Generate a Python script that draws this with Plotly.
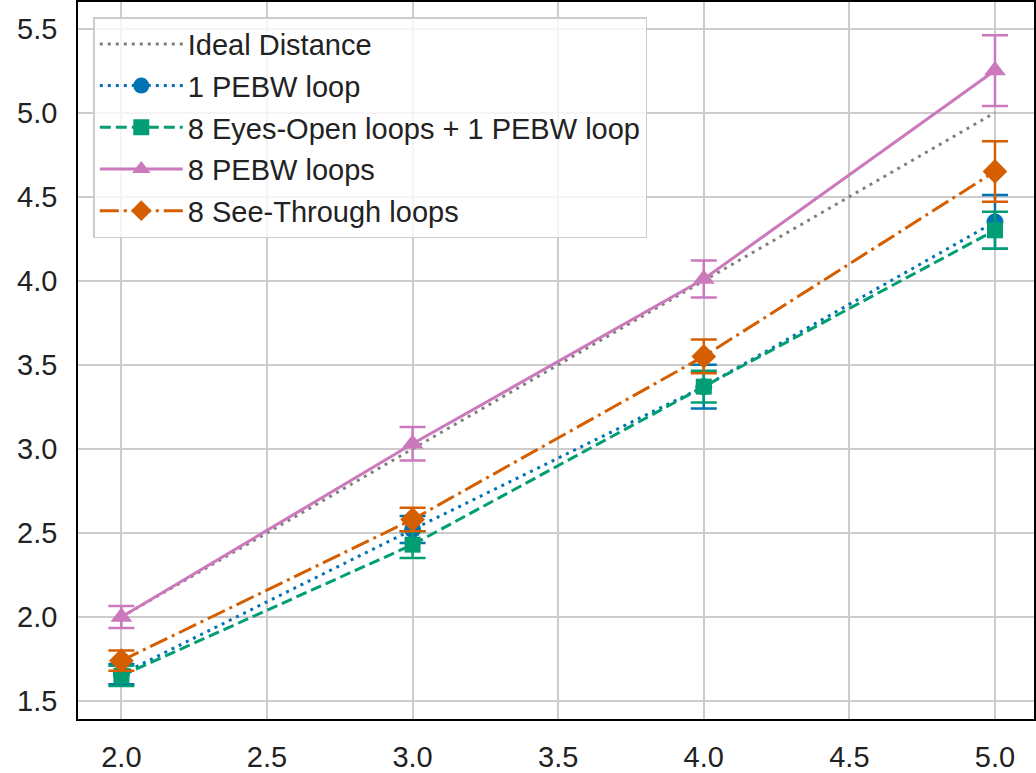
import plotly.graph_objects as go

distances = [2.0, 3.0, 4.0, 5.0]
ideal = [2.0, 3.0, 4.0, 5.0]

pebw1_mean = [1.66, 2.52, 3.37, 4.35]
pebw1_err = [0.06, 0.08, 0.13, 0.16]

eyes_mean = [1.65, 2.43, 3.37, 4.30]
eyes_err = [0.06, 0.08, 0.095, 0.11]

pebw8_mean = [2.00, 3.03, 4.01, 5.25]
pebw8_err = [0.065, 0.10, 0.11, 0.21]

see_mean = [1.74, 2.58, 3.55, 4.65]
see_err = [0.06, 0.07, 0.10, 0.18]

x_ticks = [2.0, 2.5, 3.0, 3.5, 4.0, 4.5, 5.0]
y_ticks = [1.5, 2.0, 2.5, 3.0, 3.5, 4.0, 4.5, 5.0, 5.5]

FONT = "Arial, Liberation Sans, sans-serif"
LW = 3

fig = go.Figure()

fig.add_trace(go.Scatter(
    x=distances, y=ideal, mode="lines", name="Ideal Distance", legendgroup="g0",
    line=dict(color="#808080", width=LW, dash="3px,5px"),
))


def add_series(mean, err, name, color, symbol, size, dash, grp):
    fig.add_trace(go.Scatter(
        x=distances, y=mean, mode="lines+markers", name=name, legendgroup=grp,
        line=dict(color=color, width=LW, dash=dash),
        marker=dict(color=color, symbol=symbol, size=size, line=dict(width=0)),
        error_y=dict(type="data", array=err, visible=True, color=color,
                     thickness=2.5, width=13),
    ))


add_series(pebw1_mean, pebw1_err, "1 PEBW loop", "#0173b2", "circle", 17, "3px,5px", "g1")
add_series(eyes_mean, eyes_err, "8 Eyes-Open loops + 1 PEBW loop", "#029e73", "square", 16, "11px,5px", "g2")
add_series(pebw8_mean, pebw8_err, "8 PEBW loops", "#cc78bc", "triangle-up", 19, "solid", "g3")
add_series(see_mean, see_err, "8 See-Through loops", "#d55e00", "diamond", 19, "19px,5px,3px,5px", "g4")

fig.update_layout(
    width=1036, height=773,
    margin=dict(l=78, r=0, t=2, b=54),
    paper_bgcolor="white", plot_bgcolor="white",
    font=dict(family=FONT, size=29, color="#222222"),
    showlegend=True,
    legend=dict(
        x=0.016, y=0.979, xanchor="left", yanchor="top",
        bgcolor="rgba(255,255,255,0.8)", bordercolor="#cccccc", borderwidth=1.5,
        font=dict(family=FONT, size=29, color="#222222"),
        itemwidth=83, tracegroupgap=1,
    ),
)

fig.update_xaxes(
    range=[1.851, 5.134], tickvals=x_ticks, ticktext=[f"{v:.1f}" for v in x_ticks],
    showgrid=True, gridcolor="#cccccc", gridwidth=2,
    showline=True, linecolor="black", linewidth=1.5, mirror=True,
    zeroline=False, ticks="", ticklabelstandoff=11,
)
fig.update_yaxes(
    range=[1.393, 5.658], tickvals=y_ticks, ticktext=[f"{v:.1f}" for v in y_ticks],
    showgrid=True, gridcolor="#cccccc", gridwidth=2,
    showline=True, linecolor="black", linewidth=1.5, mirror=True,
    zeroline=False, ticks="", ticklabelstandoff=13,
)

fig.write_html("out.html")
